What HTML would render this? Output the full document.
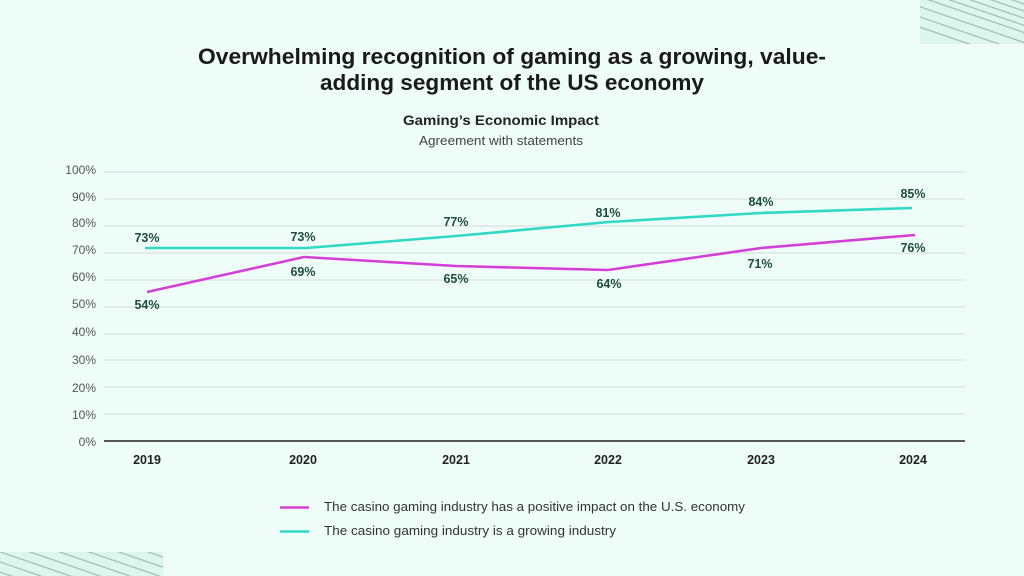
<!DOCTYPE html>
<html>
<head>
<meta charset="utf-8">
<style>
html,body{margin:0;padding:0;background:#effdf9;}
svg{display:block;}
text{font-family:"Liberation Sans",sans-serif;}
</style>
</head>
<body>
<svg width="1024" height="576" viewBox="0 0 1024 576" xmlns="http://www.w3.org/2000/svg">
<defs>
<clipPath id="c1"><rect x="920" y="0" width="104" height="44"/></clipPath>
<clipPath id="c2"><rect x="0" y="552" width="163" height="24"/></clipPath>
</defs>
<rect width="1024" height="576" fill="#effdf9"/>
<!-- decorative stripes -->
<rect x="920" y="0" width="104" height="44" fill="#dcf6ee"/>
<g clip-path="url(#c1)" stroke="#a9bdb7" stroke-width="1.3">
<line x1="900" y1="-10" x2="1040" y2="38"/>
<line x1="900" y1="0" x2="1040" y2="48"/>
<line x1="915" y1="-12" x2="1055" y2="36"/>
<line x1="930" y1="-14" x2="1070" y2="34"/>
<line x1="945" y1="-16" x2="1085" y2="32"/>
<line x1="885" y1="5" x2="1025" y2="53"/>
<line x1="960" y1="-18" x2="1100" y2="30"/>
<line x1="870" y1="10" x2="1010" y2="58"/>
</g>
<rect x="0" y="552" width="163" height="24" fill="#dcf6ee"/>
<g clip-path="url(#c2)" stroke="#a9bdb7" stroke-width="1.3">
<line x1="-20" y1="545" x2="120" y2="593"/>
<line x1="-5" y1="540" x2="135" y2="588"/>
<line x1="10" y1="535" x2="150" y2="583"/>
<line x1="25" y1="530" x2="165" y2="578"/>
<line x1="40" y1="525" x2="180" y2="573"/>
<line x1="55" y1="520" x2="195" y2="568"/>
<line x1="-35" y1="550" x2="105" y2="598"/>
<line x1="-50" y1="555" x2="90" y2="603"/>
<line x1="70" y1="515" x2="210" y2="563"/>
<line x1="85" y1="510" x2="225" y2="558"/>
</g>

<!-- titles -->
<text x="512" y="64" text-anchor="middle" font-size="22" font-weight="bold" fill="#1a1a1a" textLength="628" lengthAdjust="spacingAndGlyphs">Overwhelming recognition of gaming as a growing, value-</text>
<text x="512" y="90" text-anchor="middle" font-size="22" font-weight="bold" fill="#1a1a1a" textLength="384" lengthAdjust="spacingAndGlyphs">adding segment of the US economy</text>
<text x="501" y="125" text-anchor="middle" font-size="14" font-weight="bold" fill="#222" textLength="196" lengthAdjust="spacingAndGlyphs">Gaming’s Economic Impact</text>
<text x="501" y="145" text-anchor="middle" font-size="12.5" fill="#444" textLength="164" lengthAdjust="spacingAndGlyphs">Agreement with statements</text>

<!-- gridlines -->
<g stroke="#d3dcd9" stroke-width="1">
<line x1="104" y1="172" x2="965" y2="172"/>
<line x1="104" y1="199" x2="965" y2="199"/>
<line x1="104" y1="226" x2="965" y2="226"/>
<line x1="104" y1="253" x2="965" y2="253"/>
<line x1="104" y1="280" x2="965" y2="280"/>
<line x1="104" y1="307" x2="965" y2="307"/>
<line x1="104" y1="334" x2="965" y2="334"/>
<line x1="104" y1="360" x2="965" y2="360"/>
<line x1="104" y1="387" x2="965" y2="387"/>
<line x1="104" y1="414" x2="965" y2="414"/>
</g>
<line x1="104" y1="441" x2="965" y2="441" stroke="#222" stroke-width="1.6"/>

<!-- y labels -->
<g font-size="12" fill="#555" text-anchor="end">
<text x="96" y="174">100%</text>
<text x="96" y="201">90%</text>
<text x="96" y="227">80%</text>
<text x="96" y="254">70%</text>
<text x="96" y="281">60%</text>
<text x="96" y="308">50%</text>
<text x="96" y="336">40%</text>
<text x="96" y="364">30%</text>
<text x="96" y="392">20%</text>
<text x="96" y="419">10%</text>
<text x="96" y="446">0%</text>
</g>

<!-- x labels -->
<g font-size="12.5" font-weight="bold" fill="#222" text-anchor="middle">
<text x="147" y="464">2019</text>
<text x="303" y="464">2020</text>
<text x="456" y="464">2021</text>
<text x="608" y="464">2022</text>
<text x="761" y="464">2023</text>
<text x="913" y="464">2024</text>
</g>

<!-- series -->
<polyline fill="none" stroke="#2fd9c2" stroke-width="2.6" stroke-linejoin="round" points="145,248 306,248 456,236 609,222 761,213 912,208"/>
<polyline fill="none" stroke="#d43fd8" stroke-width="2.6" stroke-linejoin="round" points="147,292 304,257 456,266 608,270 761,248 915,235"/>

<!-- data labels -->
<g font-size="12.5" font-weight="bold" fill="#1e4d3e" text-anchor="middle">
<text x="147" y="242">73%</text>
<text x="147" y="309">54%</text>
<text x="303" y="241">73%</text>
<text x="303" y="276">69%</text>
<text x="456" y="226">77%</text>
<text x="456" y="283">65%</text>
<text x="608" y="217">81%</text>
<text x="609" y="288">64%</text>
<text x="761" y="206">84%</text>
<text x="760" y="268">71%</text>
<text x="913" y="198">85%</text>
<text x="913" y="252">76%</text>
</g>

<!-- legend -->
<line x1="280" y1="507.5" x2="309" y2="507.5" stroke="#d43fd8" stroke-width="2.6"/>
<text x="324" y="511" font-size="13" fill="#333" textLength="421" lengthAdjust="spacingAndGlyphs">The casino gaming industry has a positive impact on the U.S. economy</text>
<line x1="280" y1="531.5" x2="309" y2="531.5" stroke="#2fd9c2" stroke-width="2.6"/>
<text x="324" y="535" font-size="13" fill="#333" textLength="292" lengthAdjust="spacingAndGlyphs">The casino gaming industry is a growing industry</text>
</svg>
</body>
</html>
